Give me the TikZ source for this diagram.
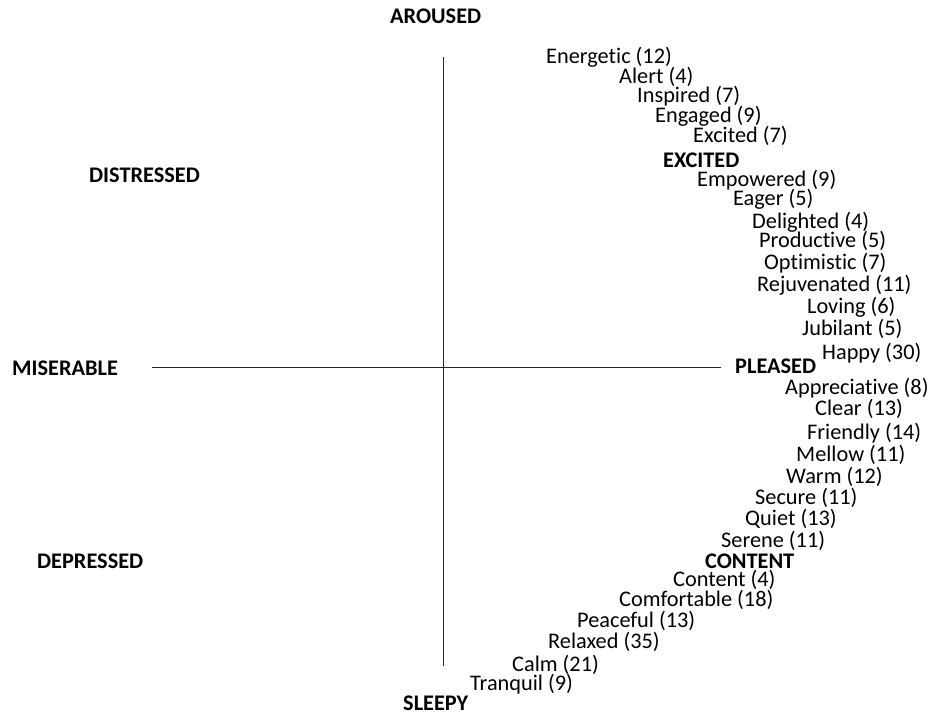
\documentclass[tikz,border=0pt]{standalone}
\usepackage{fontspec}
\setmainfont{Carlito}[Ligatures=NoCommon]
\begin{document}
\begin{tikzpicture}[x=1pt,y=-1pt,
  lbl/.style={anchor=west,inner sep=0pt,font=\fontsize{22.3}{24}\selectfont},
  axlbl/.style={anchor=west,inner sep=0pt,font=\fontsize{22.3}{24}\selectfont\bfseries},
  axis/.style={line width=0.9pt,draw=black!85}]
\useasboundingbox (0,0) rectangle (935,717);
% axis labels
\node[axlbl] (aroused) at (390,16) {AROUSED};
\node[axlbl] (distressed) at (89,175) {DISTRESSED};
\node[axlbl] (miserable) at (12,368) {MISERABLE};
\node[axlbl] (depressed) at (37,561) {DEPRESSED};
\node[axlbl] (sleepy) at (403,703) {SLEEPY};
\node[axlbl] (excitedlbl) at (663,160) {EXCITED};
\node[axlbl] (pleased) at (735,366) {PLEASED};
\node[axlbl] (contentlbl) at (705,561) {CONTENT};
% axes
\coordinate (vtop) at (443,57);
\coordinate (vbot) at (443,666);
\coordinate (hleft) at (152,367);
\coordinate (hright) at (721,367);
\draw[axis] (vtop) -- (vbot);
\draw[axis] (hleft) -- (hright);
% words
\node[lbl] (w1) at (546,57) {Energetic (12)};
\node[lbl] (w2) at (619,77) {Alert (4)};
\node[lbl] (w3) at (637,96) {Inspired (7)};
\node[lbl] (w4) at (655,116) {Engaged (9)};
\node[lbl] (w5) at (693,136) {Excited (7)};
\node[lbl] (w6) at (697,180) {Empowered (9)};
\node[lbl] (w7) at (733,199) {Eager (5)};
\node[lbl] (w8) at (752,222) {Delighted (4)};
\node[lbl] (w9) at (759,241) {Productive (5)};
\node[lbl] (w10) at (764,263) {Optimistic (7)};
\node[lbl] (w11) at (757,285) {Rejuvenated (11)};
\node[lbl] (w12) at (807,307) {Loving (6)};
\node[lbl] (w13) at (802,329) {Jubilant (5)};
\node[lbl] (w14) at (822,353) {Happy (30)};
\node[lbl] (w15) at (785,388) {Appreciative (8)};
\node[lbl] (w16) at (815,409) {Clear (13)};
\node[lbl] (w17) at (807,433) {Friendly (14)};
\node[lbl] (w18) at (796,455) {Mellow (11)};
\node[lbl] (w19) at (786,477) {Warm (12)};
\node[lbl] (w20) at (755,498) {Secure (11)};
\node[lbl] (w21) at (745,519) {Quiet (13)};
\node[lbl] (w22) at (721,541) {Serene (11)};
\node[lbl] (w23) at (673,580) {Content (4)};
\node[lbl] (w24) at (619,600) {Comfortable (18)};
\node[lbl] (w25) at (577,621) {Peaceful (13)};
\node[lbl] (w26) at (548,642) {Relaxed (35)};
\node[lbl] (w27) at (512,665) {Calm (21)};
\node[lbl] (w28) at (470,684) {Tranquil (9)};
\end{tikzpicture}
\end{document}
